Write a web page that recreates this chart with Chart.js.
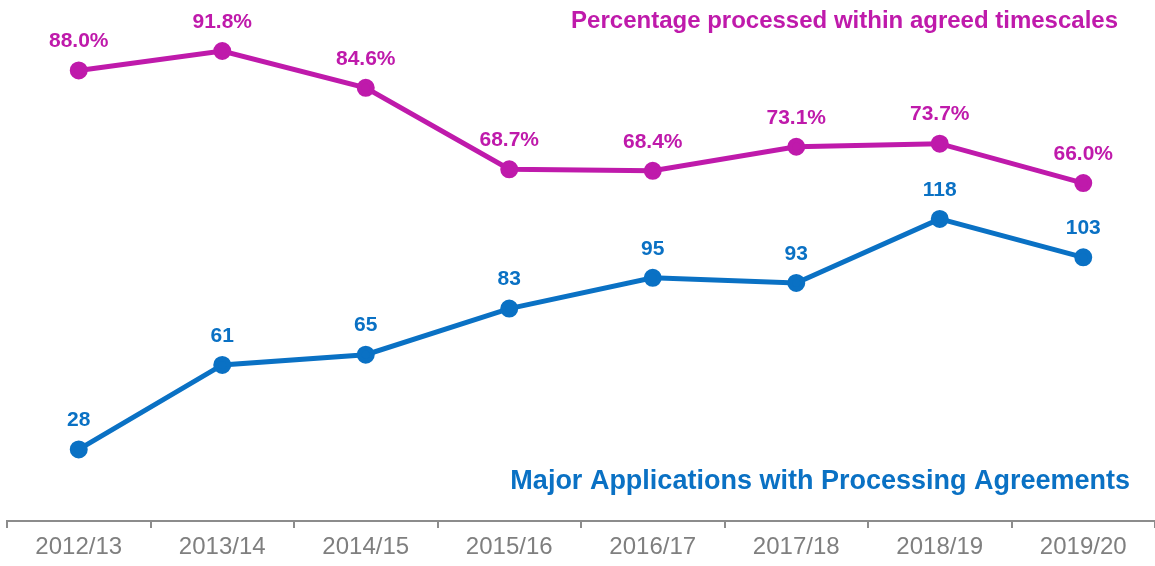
<!DOCTYPE html>
<html>
<head>
<meta charset="UTF-8">
<title>Processing Agreements</title>
<script src="https://cdn.jsdelivr.net/npm/chart.js@4"></script>
<style>
  html, body { margin: 0; padding: 0; background: #fff; }
  #wrap { width: 1155px; height: 566px; }
</style>
</head>
<body>
<div id="wrap"><canvas id="chart" width="1155" height="566"></canvas></div>
<script>
const years = ["2012/13", "2013/14", "2014/15", "2015/16", "2016/17", "2017/18", "2018/19", "2019/20"];
const pctProcessed = [88.0, 91.8, 84.6, 68.7, 68.4, 73.1, 73.7, 66.0];
const majorApps = [28, 61, 65, 83, 95, 93, 118, 103];

const pink = "#BF1AAB";
const blue = "#0A71C4";

// labels above each point + the two series captions
const pointLabels = {
  id: "pointLabels",
  afterDatasetsDraw(chart) {
    const ctx = chart.ctx;
    ctx.save();
    ctx.font = "bold 21px 'Liberation Sans', Arial, sans-serif";
    ctx.textAlign = "center";
    ctx.textBaseline = "middle";
    chart.data.datasets.forEach((ds, i) => {
      const meta = chart.getDatasetMeta(i);
      ctx.fillStyle = ds.borderColor;
      meta.data.forEach((pt, j) => {
        const v = ds.data[j];
        const txt = i === 0 ? v.toFixed(1) + "%" : String(v);
        ctx.fillText(txt, pt.x, pt.y - 29);
      });
    });

    ctx.textAlign = "right";
    ctx.fillStyle = pink;
    ctx.font = "bold 24px 'Liberation Sans', Arial, sans-serif";
    ctx.fillText("Percentage processed within agreed timescales", 1118, 21);
    ctx.fillStyle = blue;
    ctx.font = "bold 27px 'Liberation Sans', Arial, sans-serif";
    ctx.fillText("Major Applications with Processing Agreements", 1130, 482);
    ctx.restore();
  }
};

new Chart(document.getElementById("chart"), {
  type: "line",
  data: {
    labels: years,
    datasets: [
      {
        label: "Percentage processed within agreed timescales",
        data: pctProcessed,
        yAxisID: "yPct",
        borderColor: pink,
        backgroundColor: pink,
        borderWidth: 5,
        pointRadius: 6.5,
        pointHoverRadius: 6.5,
        clip: false
      },
      {
        label: "Major Applications with Processing Agreements",
        data: majorApps,
        yAxisID: "yApps",
        borderColor: blue,
        backgroundColor: blue,
        borderWidth: 5,
        pointRadius: 6.5,
        pointHoverRadius: 6.5,
        clip: false
      }
    ]
  },
  options: {
    responsive: false,
    animation: false,
    layout: { autoPadding: false, padding: { left: 7, right: 0, top: 9, bottom: 0 } },
    plugins: {
      legend: { display: false },
      tooltip: { enabled: false }
    },
    scales: {
      x: {
        offset: true,
        grid: {
          offset: true,
          drawOnChartArea: false,
          drawTicks: true,
          tickLength: 7,
          color: "#8c8c8c",
          lineWidth: 2
        },
        border: { color: "#8c8c8c", width: 2 },
        ticks: {
          color: "#7f7f7f",
          padding: 12,
          font: { family: "'Liberation Sans', Arial, sans-serif", size: 24, lineHeight: 0.58 }
        }
      },
      yPct: { display: false, min: 0, max: 100 },
      yApps: { display: false, min: 0, max: 200 }
    }
  },
  plugins: [pointLabels]
});
</script>
</body>
</html>
